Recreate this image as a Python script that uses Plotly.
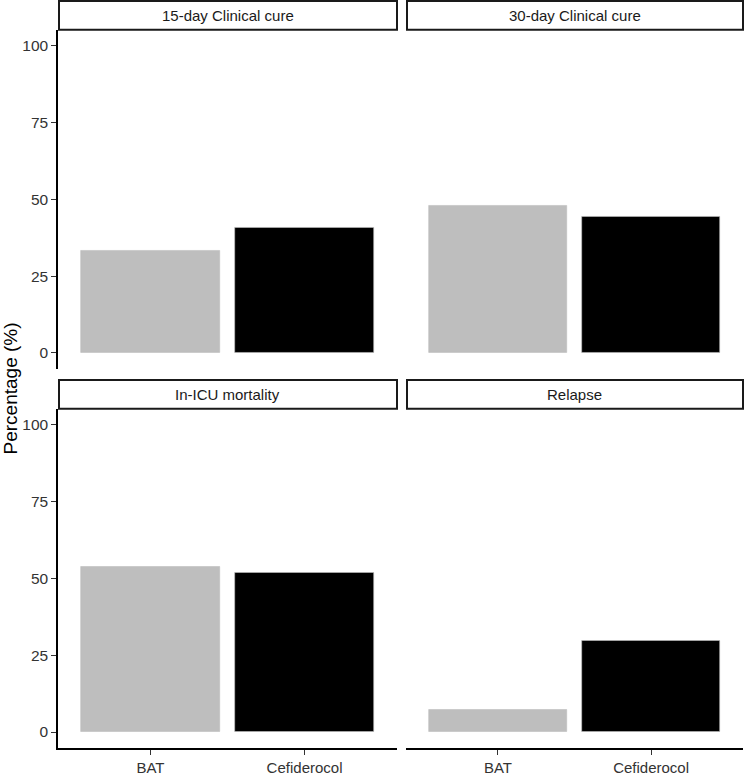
import plotly.graph_objects as go

# ---- data ----
facets = ["15-day Clinical cure", "30-day Clinical cure", "In-ICU mortality", "Relapse"]
groups = ["BAT", "Cefiderocol"]
bat_values = [33.3, 48.1, 53.8, 7.4]
cef_values = [40.7, 44.4, 51.9, 29.6]
y_ticks = [0, 25, 50, 75, 100]
bar_colors = ["#BEBEBE", "#000000"]

W, H = 744, 776
FONT = "Liberation Sans, Arial, sans-serif"

# panel pixel boxes (x0, x1, y0, y1) in screen coords
xcols = [(58, 397), (406, 743)]
yrows = [(30, 372), (412, 754)]
strip_h = 29

fig = go.Figure()
layout_axes = {}
shapes = []
annotations = []

for i, name in enumerate(facets):
    r, c = divmod(i, 2)
    x0, x1 = xcols[c]
    y0, y1 = yrows[r]
    xa = "x" if i == 0 else f"x{i+1}"
    ya = "y" if i == 0 else f"y{i+1}"
    fig.add_trace(go.Bar(
        x=groups, y=[bat_values[i], cef_values[i]],
        marker=dict(color=bar_colors, line=dict(color="#BEBEBE", width=0.6)),
        width=0.9, xaxis=xa, yaxis=ya, showlegend=False,
    ))
    xk = "xaxis" if i == 0 else f"xaxis{i+1}"
    yk = "yaxis" if i == 0 else f"yaxis{i+1}"
    bottom = r == 1
    left = c == 0
    layout_axes[xk] = dict(
        domain=[x0 / W, x1 / W], anchor=ya, range=[-0.6, 1.6],
        type="category", categoryorder="array", categoryarray=groups,
        showgrid=False, zeroline=False,
        showline=bottom, linecolor="#000000", linewidth=1.5,
        ticks="outside" if bottom else "", ticklen=5, tickwidth=1.4, tickcolor="#333333",
        showticklabels=bottom,
        tickfont=dict(family=FONT, size=15, color="#333333"),
    )
    layout_axes[yk] = dict(
        domain=[1 - y1 / H, 1 - y0 / H], anchor=xa, range=[-5.25, 105.25],
        tickvals=y_ticks, showgrid=False, zeroline=False,
        showline=left, linecolor="#000000", linewidth=1.5,
        ticks="outside" if left else "", ticklen=5, tickwidth=1.4, tickcolor="#333333",
        showticklabels=left,
        tickfont=dict(family=FONT, size=15.5, color="#333333"),
    )
    # strip
    sy0 = y0 - strip_h
    shapes.append(dict(
        type="rect", xref="paper", yref="paper",
        x0=(x0 + 1) / W, x1=x1 / W, y0=1 - y0 / H, y1=1 - sy0 / H,
        line=dict(color="#1a1a1a", width=2), fillcolor="white", layer="above",
    ))
    annotations.append(dict(
        text=name, xref="paper", yref="paper",
        x=(x0 + x1) / 2 / W, y=1 - (y0 + sy0) / 2 / H,
        xanchor="center", yanchor="middle", showarrow=False,
        font=dict(family=FONT, size=15, color="#1A1A1A"),
    ))

annotations.append(dict(
    text="Percentage (%)", xref="paper", yref="paper",
    x=10.5 / W, y=1 - 392 / H, xanchor="center", yanchor="middle",
    textangle=-90, showarrow=False,
    font=dict(family=FONT, size=19, color="#000000"),
))

fig.update_layout(
    width=W, height=H, margin=dict(l=0, r=0, t=0, b=0),
    paper_bgcolor="white", plot_bgcolor="white",
    shapes=shapes, annotations=annotations, bargap=0,
    **layout_axes,
)

fig.write_html(
    "out.html",
    config={"displayModeBar": False},
    post_script="document.body.style.margin='0px';document.body.style.overflow='hidden';",
)
